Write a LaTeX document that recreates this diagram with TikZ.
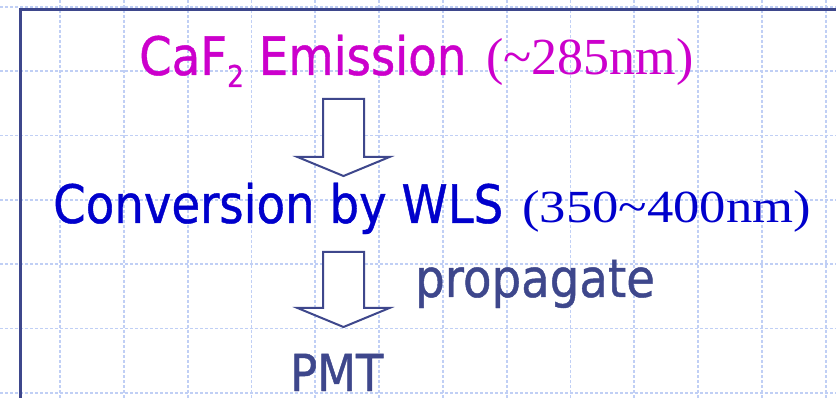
\documentclass[tikz,border=0pt]{standalone}
\usepackage{fontspec}
\newfontfamily\tah[FakeStretch=0.88,FakeBold=0.8]{DejaVu Sans}
\newfontfamily\tnr{Liberation Serif}
\definecolor{navy}{RGB}{62,71,140}
\definecolor{gridblue}{RGB}{192,207,245}
\definecolor{mag}{RGB}{204,0,204}
\definecolor{convblue}{RGB}{0,0,204}
\begin{document}
\begin{tikzpicture}[x=1pt,y=-1pt,
  gridline/.style={draw=gridblue, line width=1.8pt, dash pattern=on 3pt off 2pt},
  frameline/.style={draw=navy, line width=3pt},
  blockarrow/.style={draw=navy, line width=2pt, fill=white, line join=miter},
  sans/.style={inner sep=0pt, anchor=base west, font=\tah\fontsize{53}{60}\selectfont},
  serif/.style={inner sep=0pt, anchor=base west, font=\tnr\fontsize{52}{60}\selectfont}]
\fill[white] (0,0) rectangle (836,398);
\useasboundingbox (0,0) rectangle (836,398);
% grid
\foreach \i in {0,...,12} \draw[gridline] ({60+63.8*\i},0) -- ({60+63.8*\i},398);
\foreach \j in {0,...,6} \draw[gridline] (0,{7+64.3*\j}) -- (836,{7+64.3*\j});
% frame
\draw[frameline] (20,398) -- (20,10) -- (836,10);
% texts
\node[sans, text=mag] (caf) at (139,75) {CaF\raisebox{-12pt}{\fontsize{30}{30}\selectfont 2} Emission};
\node[serif, text=mag] (caftail) at (486,75) {(\textasciitilde285nm)};
\node[sans, text=convblue] (conv) at (53,223) {Conversion by WLS};
\node[serif, text=convblue, font=\tnr\fontsize{46}{52}\selectfont] (convtail) at (522,223) {\scalebox{1.145}[1]{(350\textasciitilde400nm)}};
\node[sans, text=navy] (prop) at (415,297) {propagate};
\node[sans, text=navy, font=\tah\fontsize{51}{60}\selectfont] (pmt) at (290,391) {PMT};
% block arrows
\coordinate (a1) at (343.5,99);
\coordinate (a2) at (343.5,252);
\draw[blockarrow] (a1) ++(-20.5,0) -- ++(0,58) -- ++(-25.5,0) -- ++(46,19) -- ++(46,-19) -- ++(-25.5,0) -- ++(0,-58) -- cycle;
\draw[blockarrow] (a2) ++(-20.5,0) -- ++(0,56) -- ++(-25.5,0) -- ++(46,19) -- ++(46,-19) -- ++(-25.5,0) -- ++(0,-56) -- cycle;
\end{tikzpicture}
\end{document}
